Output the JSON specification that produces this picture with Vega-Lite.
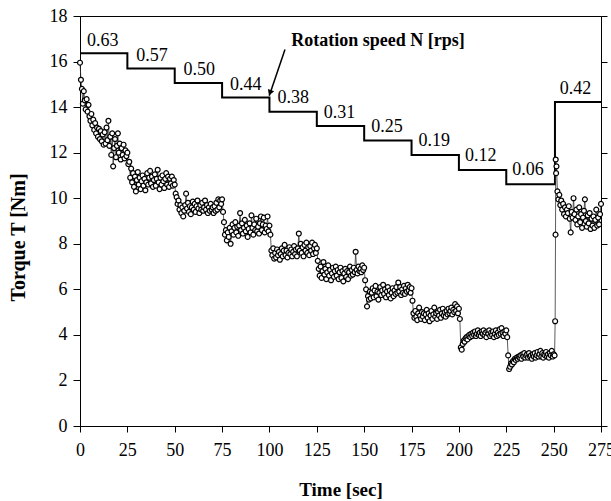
{
  "$schema": "https://vega.github.io/schema/vega-lite/v6.json",
  "width": 521,
  "height": 410,
  "autosize": {"type": "none"},
  "padding": {"left": 80, "top": 16, "right": 10, "bottom": 75},
  "background": "white",
  "config": {
    "view": {"stroke": "black", "strokeWidth": 1},
    "font": "Liberation Serif",
    "text": {"font": "Liberation Serif"},
    "axis": {"grid": false, "domainColor": "black", "tickColor": "black", "labelColor": "black", "titleColor": "black", "labelFont": "Liberation Serif", "titleFont": "Liberation Serif", "labelFontSize": 18, "titleFontSize": 19, "titleFontWeight": "bold", "labelOverlap": false, "labelFlush": false, "domainWidth": 1, "tickWidth": 1}
  },
  "datasets": {
    "torque": [
      {"t":0,"T":15.95},{"t":0.5,"T":15.2},{"t":1,"T":14.8},{"t":1.5,"T":14.15},{"t":2,"T":14.7},{"t":2.5,"T":14.3},{"t":3,"T":13.9},{"t":3.5,"T":14.35},{"t":4,"T":13.8},{"t":4.5,"T":14.1},
      {"t":5,"T":13.6},{"t":5.5,"T":13.4},{"t":6,"T":13.7},{"t":6.5,"T":13.2},{"t":7,"T":13.45},{"t":7.5,"T":13.0},{"t":8,"T":13.3},{"t":8.5,"T":12.85},{"t":9,"T":13.1},{"t":9.5,"T":12.7},
      {"t":10,"T":13.05},{"t":10.5,"T":12.6},{"t":11,"T":12.95},{"t":11.5,"T":12.5},{"t":12,"T":12.8},{"t":12.5,"T":12.35},{"t":13,"T":12.9},{"t":13.5,"T":12.4},{"t":14,"T":13.1},{"t":14.5,"T":12.55},
      {"t":15,"T":13.4},{"t":15.5,"T":12.3},{"t":16,"T":12.7},{"t":16.5,"T":11.9},{"t":17,"T":12.85},{"t":17.5,"T":11.4},{"t":18,"T":12.2},{"t":18.5,"T":12.6},{"t":19,"T":11.8},{"t":19.5,"T":12.3},
      {"t":20,"T":12.85},{"t":20.5,"T":12.0},{"t":21,"T":12.4},{"t":21.5,"T":11.7},{"t":22,"T":12.2},{"t":22.5,"T":11.9},{"t":23,"T":12.35},{"t":23.5,"T":11.75},{"t":24,"T":12.1},{"t":24.5,"T":11.85},
      {"t":25,"T":12.0},{"t":25.5,"T":11.5},
      {"t":26,"T":11.6},{"t":26.5,"T":10.9},{"t":27,"T":11.3},{"t":27.5,"T":10.7},{"t":28,"T":11.1},{"t":28.5,"T":10.5},{"t":29,"T":10.95},{"t":29.5,"T":10.3},{"t":30,"T":10.8},{"t":30.5,"T":11.15},
      {"t":31,"T":10.6},{"t":31.5,"T":10.9},{"t":32,"T":10.4},{"t":32.5,"T":10.75},{"t":33,"T":11.0},{"t":33.5,"T":10.55},{"t":34,"T":10.85},{"t":34.5,"T":10.35},{"t":35,"T":10.7},{"t":35.5,"T":11.1},
      {"t":36,"T":10.6},{"t":36.5,"T":10.9},{"t":37,"T":11.2},{"t":37.5,"T":10.65},{"t":38,"T":10.95},{"t":38.5,"T":10.5},{"t":39,"T":10.8},{"t":39.5,"T":11.05},{"t":40,"T":10.55},{"t":40.5,"T":10.85},
      {"t":41,"T":11.25},{"t":41.5,"T":10.7},{"t":42,"T":10.4},{"t":42.5,"T":10.9},{"t":43,"T":10.6},{"t":43.5,"T":11.0},{"t":44,"T":10.75},{"t":44.5,"T":10.45},{"t":45,"T":10.85},{"t":45.5,"T":11.1},
      {"t":46,"T":10.6},{"t":46.5,"T":10.95},{"t":47,"T":10.5},{"t":47.5,"T":10.85},{"t":48,"T":10.65},{"t":48.5,"T":10.95},{"t":49,"T":10.55},{"t":49.5,"T":10.8},{"t":50,"T":10.6},{"t":50.5,"T":10.2},
      {"t":51,"T":10.05},{"t":51.5,"T":9.75},{"t":52,"T":9.9},{"t":52.5,"T":9.5},{"t":53,"T":9.7},{"t":53.5,"T":9.35},{"t":54,"T":9.6},{"t":54.5,"T":9.2},{"t":55,"T":9.45},{"t":55.5,"T":9.7},
      {"t":56,"T":10.2},{"t":56.5,"T":9.55},{"t":57,"T":9.8},{"t":57.5,"T":9.4},{"t":58,"T":9.65},{"t":58.5,"T":9.3},{"t":59,"T":9.6},{"t":59.5,"T":9.85},{"t":60,"T":9.5},{"t":60.5,"T":9.75},
      {"t":61,"T":9.4},{"t":61.5,"T":9.65},{"t":62,"T":9.9},{"t":62.5,"T":9.55},{"t":63,"T":9.35},{"t":63.5,"T":9.7},{"t":64,"T":9.5},{"t":64.5,"T":9.8},{"t":65,"T":9.45},{"t":65.5,"T":9.6},
      {"t":66,"T":9.9},{"t":66.5,"T":9.5},{"t":67,"T":9.7},{"t":67.5,"T":9.35},{"t":68,"T":9.6},{"t":68.5,"T":9.45},{"t":69,"T":9.75},{"t":69.5,"T":9.5},{"t":70,"T":9.6},{"t":70.5,"T":9.35},
      {"t":71,"T":9.65},{"t":71.5,"T":9.45},{"t":72,"T":9.8},{"t":72.5,"T":9.5},{"t":73,"T":9.95},{"t":73.5,"T":9.6},{"t":74,"T":9.9},{"t":74.5,"T":9.75},{"t":75,"T":9.95},{"t":75.5,"T":9.4},
      {"t":76,"T":8.95},{"t":76.5,"T":8.4},{"t":77,"T":8.6},{"t":77.5,"T":8.15},{"t":78,"T":8.5},{"t":78.5,"T":8.3},{"t":79,"T":8.7},{"t":79.5,"T":8.0},{"t":80,"T":8.55},{"t":80.5,"T":8.85},
      {"t":81,"T":8.4},{"t":81.5,"T":8.7},{"t":82,"T":8.95},{"t":82.5,"T":8.5},{"t":83,"T":8.75},{"t":83.5,"T":8.35},{"t":84,"T":8.8},{"t":84.5,"T":9.35},{"t":85,"T":8.6},{"t":85.5,"T":8.9},
      {"t":86,"T":8.45},{"t":86.5,"T":8.7},{"t":87,"T":9.05},{"t":87.5,"T":8.55},{"t":88,"T":8.8},{"t":88.5,"T":8.3},{"t":89,"T":8.65},{"t":89.5,"T":8.9},{"t":90,"T":8.5},{"t":90.5,"T":9.25},
      {"t":91,"T":8.7},{"t":91.5,"T":8.4},{"t":92,"T":8.85},{"t":92.5,"T":8.6},{"t":93,"T":9.1},{"t":93.5,"T":8.55},{"t":94,"T":8.75},{"t":94.5,"T":8.45},{"t":95,"T":8.9},{"t":95.5,"T":9.2},
      {"t":96,"T":8.6},{"t":96.5,"T":8.85},{"t":97,"T":9.15},{"t":97.5,"T":8.5},{"t":98,"T":8.8},{"t":98.5,"T":8.65},{"t":99,"T":9.2},{"t":99.5,"T":8.55},{"t":100,"T":8.8},{"t":100.5,"T":8.4},
      {"t":101,"T":7.7},{"t":101.5,"T":7.5},{"t":102,"T":7.8},{"t":102.5,"T":7.35},{"t":103,"T":7.6},{"t":103.5,"T":7.4},{"t":104,"T":7.75},{"t":104.5,"T":7.5},{"t":105,"T":7.65},{"t":105.5,"T":7.3},
      {"t":106,"T":7.55},{"t":106.5,"T":7.8},{"t":107,"T":7.45},{"t":107.5,"T":7.7},{"t":108,"T":7.95},{"t":108.5,"T":7.5},{"t":109,"T":7.7},{"t":109.5,"T":7.4},{"t":110,"T":7.6},{"t":110.5,"T":7.85},
      {"t":111,"T":7.55},{"t":111.5,"T":7.75},{"t":112,"T":7.45},{"t":112.5,"T":7.65},{"t":113,"T":7.9},{"t":113.5,"T":7.55},{"t":114,"T":7.75},{"t":114.5,"T":7.45},{"t":115,"T":7.8},{"t":115.5,"T":8.45},
      {"t":116,"T":7.7},{"t":116.5,"T":8.0},{"t":117,"T":7.6},{"t":117.5,"T":7.85},{"t":118,"T":7.45},{"t":118.5,"T":7.95},{"t":119,"T":7.7},{"t":119.5,"T":8.05},{"t":120,"T":7.6},{"t":120.5,"T":7.85},
      {"t":121,"T":7.5},{"t":121.5,"T":7.9},{"t":122,"T":7.7},{"t":122.5,"T":8.05},{"t":123,"T":7.55},{"t":123.5,"T":7.8},{"t":124,"T":7.95},{"t":124.5,"T":7.6},{"t":125,"T":7.8},{"t":125.5,"T":7.25},
      {"t":126,"T":6.9},{"t":126.5,"T":6.6},{"t":127,"T":7.0},{"t":127.5,"T":6.5},{"t":128,"T":6.8},{"t":128.5,"T":7.2},{"t":129,"T":6.65},{"t":129.5,"T":6.9},{"t":130,"T":6.45},{"t":130.5,"T":6.75},
      {"t":131,"T":7.05},{"t":131.5,"T":6.6},{"t":132,"T":6.85},{"t":132.5,"T":6.4},{"t":133,"T":6.7},{"t":133.5,"T":6.95},{"t":134,"T":6.55},{"t":134.5,"T":6.8},{"t":135,"T":7.0},{"t":135.5,"T":6.6},
      {"t":136,"T":6.85},{"t":136.5,"T":6.45},{"t":137,"T":6.75},{"t":137.5,"T":6.95},{"t":138,"T":6.5},{"t":138.5,"T":6.8},{"t":139,"T":6.35},{"t":139.5,"T":6.7},{"t":140,"T":6.9},{"t":140.5,"T":6.55},
      {"t":141,"T":6.8},{"t":141.5,"T":6.45},{"t":142,"T":6.75},{"t":142.5,"T":7.0},{"t":143,"T":6.6},{"t":143.5,"T":6.85},{"t":144,"T":6.65},{"t":144.5,"T":6.95},{"t":145,"T":6.75},{"t":145.5,"T":7.65},
      {"t":146,"T":6.85},{"t":146.5,"T":6.7},{"t":147,"T":7.0},{"t":147.5,"T":6.8},{"t":148,"T":6.9},{"t":148.5,"T":6.75},{"t":149,"T":7.05},{"t":149.5,"T":6.85},{"t":150,"T":6.95},{"t":150.5,"T":6.4},
      {"t":151,"T":6.0},{"t":151.5,"T":5.25},{"t":152,"T":5.7},{"t":152.5,"T":5.55},{"t":153,"T":5.9},{"t":153.5,"T":5.6},{"t":154,"T":5.85},{"t":154.5,"T":6.05},{"t":155,"T":5.65},{"t":155.5,"T":5.95},
      {"t":156,"T":6.15},{"t":156.5,"T":5.7},{"t":157,"T":5.9},{"t":157.5,"T":5.55},{"t":158,"T":5.85},{"t":158.5,"T":6.1},{"t":159,"T":5.75},{"t":159.5,"T":5.95},{"t":160,"T":6.2},{"t":160.5,"T":5.8},
      {"t":161,"T":6.0},{"t":161.5,"T":5.65},{"t":162,"T":5.9},{"t":162.5,"T":6.1},{"t":163,"T":5.75},{"t":163.5,"T":5.95},{"t":164,"T":5.6},{"t":164.5,"T":5.85},{"t":165,"T":6.05},{"t":165.5,"T":5.7},
      {"t":166,"T":5.95},{"t":166.5,"T":5.8},{"t":167,"T":6.1},{"t":167.5,"T":5.85},{"t":168,"T":6.3},{"t":168.5,"T":5.9},{"t":169,"T":6.1},{"t":169.5,"T":5.75},{"t":170,"T":6.0},{"t":170.5,"T":5.85},
      {"t":171,"T":6.15},{"t":171.5,"T":5.8},{"t":172,"T":6.05},{"t":172.5,"T":5.9},{"t":173,"T":6.2},{"t":173.5,"T":5.95},{"t":174,"T":6.1},{"t":174.5,"T":5.85},{"t":175,"T":6.05},{"t":175.5,"T":5.5},
      {"t":176,"T":4.95},{"t":176.5,"T":4.75},{"t":177,"T":5.05},{"t":177.5,"T":4.8},{"t":178,"T":4.65},{"t":178.5,"T":4.95},{"t":179,"T":5.2},{"t":179.5,"T":4.85},{"t":180,"T":4.7},{"t":180.5,"T":5.0},
      {"t":181,"T":4.8},{"t":181.5,"T":4.95},{"t":182,"T":4.65},{"t":182.5,"T":4.9},{"t":183,"T":5.1},{"t":183.5,"T":4.75},{"t":184,"T":4.95},{"t":184.5,"T":4.6},{"t":185,"T":4.85},{"t":185.5,"T":5.05},
      {"t":186,"T":4.7},{"t":186.5,"T":4.9},{"t":187,"T":5.2},{"t":187.5,"T":4.8},{"t":188,"T":4.95},{"t":188.5,"T":4.7},{"t":189,"T":5.0},{"t":189.5,"T":4.85},{"t":190,"T":5.1},{"t":190.5,"T":4.75},
      {"t":191,"T":4.95},{"t":191.5,"T":5.15},{"t":192,"T":4.85},{"t":192.5,"T":5.0},{"t":193,"T":4.8},{"t":193.5,"T":5.05},{"t":194,"T":4.9},{"t":194.5,"T":5.15},{"t":195,"T":4.95},{"t":195.5,"T":5.05},
      {"t":196,"T":5.2},{"t":196.5,"T":4.9},{"t":197,"T":5.1},{"t":197.5,"T":5.0},{"t":198,"T":5.35},{"t":198.5,"T":5.05},{"t":199,"T":5.25},{"t":199.5,"T":4.95},{"t":200,"T":5.15},{"t":200.5,"T":4.7},
      {"t":201,"T":3.45},{"t":201.5,"T":3.35},{"t":202,"T":3.6},{"t":202.5,"T":3.75},{"t":203,"T":3.7},{"t":203.5,"T":3.85},{"t":204,"T":3.9},{"t":204.5,"T":3.8},{"t":205,"T":3.95},{"t":205.5,"T":4.0},
      {"t":206,"T":3.9},{"t":206.5,"T":4.05},{"t":207,"T":3.95},{"t":207.5,"T":4.1},{"t":208,"T":4.0},{"t":208.5,"T":4.15},{"t":209,"T":3.95},{"t":209.5,"T":4.05},{"t":210,"T":4.2},{"t":210.5,"T":4.0},
      {"t":211,"T":4.1},{"t":211.5,"T":3.95},{"t":212,"T":4.15},{"t":212.5,"T":4.05},{"t":213,"T":4.2},{"t":213.5,"T":4.0},{"t":214,"T":4.1},{"t":214.5,"T":3.9},{"t":215,"T":4.15},{"t":215.5,"T":4.05},
      {"t":216,"T":4.2},{"t":216.5,"T":3.95},{"t":217,"T":4.1},{"t":217.5,"T":4.0},{"t":218,"T":4.15},{"t":218.5,"T":3.9},{"t":219,"T":4.05},{"t":219.5,"T":4.2},{"t":220,"T":3.95},{"t":220.5,"T":4.1},
      {"t":221,"T":4.0},{"t":221.5,"T":4.25},{"t":222,"T":4.05},{"t":222.5,"T":4.3},{"t":223,"T":4.1},{"t":223.5,"T":3.95},{"t":224,"T":4.15},{"t":224.5,"T":4.05},{"t":225,"T":4.2},{"t":225.5,"T":3.9},
      {"t":226,"T":3.1},{"t":226.5,"T":2.5},{"t":227,"T":2.6},{"t":227.5,"T":2.75},{"t":228,"T":2.7},{"t":228.5,"T":2.85},{"t":229,"T":2.8},{"t":229.5,"T":2.95},{"t":230,"T":2.9},{"t":230.5,"T":3.0},
      {"t":231,"T":2.95},{"t":231.5,"T":3.05},{"t":232,"T":3.0},{"t":232.5,"T":3.1},{"t":233,"T":2.95},{"t":233.5,"T":3.15},{"t":234,"T":3.05},{"t":234.5,"T":3.2},{"t":235,"T":3.0},{"t":235.5,"T":3.1},
      {"t":236,"T":3.15},{"t":236.5,"T":3.0},{"t":237,"T":3.2},{"t":237.5,"T":3.05},{"t":238,"T":3.1},{"t":238.5,"T":2.95},{"t":239,"T":3.15},{"t":239.5,"T":3.05},{"t":240,"T":3.2},{"t":240.5,"T":3.0},
      {"t":241,"T":3.1},{"t":241.5,"T":3.25},{"t":242,"T":3.05},{"t":242.5,"T":3.15},{"t":243,"T":3.3},{"t":243.5,"T":3.05},{"t":244,"T":3.2},{"t":244.5,"T":3.0},{"t":245,"T":3.15},{"t":245.5,"T":3.1},
      {"t":246,"T":3.25},{"t":246.5,"T":3.05},{"t":247,"T":3.15},{"t":247.5,"T":3.0},{"t":248,"T":3.2},{"t":248.5,"T":3.1},{"t":249,"T":3.3},{"t":249.5,"T":3.05},{"t":250,"T":3.15},{"t":250.5,"T":3.1},
      {"t":250.8,"T":4.6},{"t":251,"T":8.4},{"t":251.1,"T":11.7},{"t":251.3,"T":11.1},{"t":251.5,"T":11.4},{"t":252,"T":10.3},{"t":252.5,"T":9.95},{"t":253,"T":10.15},{"t":253.5,"T":9.7},{"t":254,"T":9.9},
      {"t":254.5,"T":9.5},{"t":255,"T":9.75},{"t":255.5,"T":9.3},{"t":256,"T":9.6},{"t":256.5,"T":9.2},{"t":257,"T":9.5},{"t":257.5,"T":9.35},{"t":258,"T":9.65},{"t":258.5,"T":9.1},{"t":259,"T":8.5},
      {"t":259.5,"T":9.4},{"t":260,"T":9.15},{"t":260.5,"T":10.0},{"t":261,"T":9.3},{"t":261.5,"T":9.05},{"t":262,"T":9.5},{"t":262.5,"T":8.85},{"t":263,"T":9.2},{"t":263.5,"T":9.6},{"t":264,"T":8.95},
      {"t":264.5,"T":9.3},{"t":265,"T":8.7},{"t":265.5,"T":9.15},{"t":266,"T":9.45},{"t":266.5,"T":9.95},{"t":267,"T":9.0},{"t":267.5,"T":8.75},{"t":268,"T":9.25},{"t":268.5,"T":8.9},{"t":269,"T":9.35},
      {"t":269.5,"T":8.65},{"t":270,"T":9.1},{"t":270.5,"T":8.8},{"t":271,"T":9.2},{"t":271.5,"T":8.7},{"t":272,"T":9.05},{"t":272.5,"T":9.5},{"t":273,"T":8.8},{"t":273.5,"T":9.15},{"t":274,"T":8.85},
      {"t":274.5,"T":9.3},{"t":275,"T":9.75}
    ],
    "speed": [
      {"t":0,"N":16.36},{"t":25,"N":15.69},{"t":50,"N":15.06},{"t":75,"N":14.42},{"t":100,"N":13.8},{"t":125,"N":13.17},{"t":150,"N":12.53},{"t":175,"N":11.9},{"t":200,"N":11.24},{"t":225,"N":10.61},{"t":250.7,"N":14.22},{"t":275,"N":14.22}
    ],
    "labels": [
      {"t":12,"y":16.9,"label":"0.63"},{"t":38,"y":16.26,"label":"0.57"},{"t":63,"y":15.62,"label":"0.50"},{"t":87.5,"y":14.99,"label":"0.44"},{"t":112.5,"y":14.41,"label":"0.38"},{"t":137,"y":13.75,"label":"0.31"},{"t":162,"y":13.13,"label":"0.25"},{"t":187,"y":12.5,"label":"0.19"},{"t":211.5,"y":11.87,"label":"0.12"},{"t":236.5,"y":11.23,"label":"0.06"},{"t":261.5,"y":14.8,"label":"0.42"}
    ],
    "note": [{"t":157.3,"y":16.89,"label":"Rotation speed N [rps]"}],
    "arrow": [{"t":108.2,"y":16.53,"t2":99.9,"y2":14.5}],
    "head": [{"t":100.3,"y":14.63}]
  },
  "layer": [
    {
      "data": {"name": "speed"},
      "mark": {"type": "line", "interpolate": "step-after", "color": "black", "strokeWidth": 2},
      "encoding": {
        "x": {"field": "t", "type": "quantitative", "scale": {"domain": [0, 275], "nice": false, "zero": false},
              "axis": {"values": [0,25,50,75,100,125,150,175,200,225,250,275], "title": "Time [sec]", "labelFont": "Liberation Serif", "titleFont": "Liberation Serif", "tickSize": 6, "labelPadding": 9, "titleY": 63, "titleBaseline": "middle"}},
        "y": {"field": "N", "type": "quantitative", "scale": {"domain": [0, 18], "nice": false},
              "axis": {"values": [0,2,4,6,8,10,12,14,16,18], "title": "Torque T [Nm]", "labelFont": "Liberation Serif", "titleFont": "Liberation Serif", "titleFontSize": 20, "tickSize": 7, "labelPadding": 6, "titleX": -62, "titleY": 221, "titleAngle": -90, "titleAlign": "center", "titleBaseline": "middle"}}
      }
    },
    {
      "data": {"name": "torque"},
      "mark": {"type": "line", "color": "#333333", "strokeWidth": 0.8},
      "encoding": {
        "x": {"field": "t", "type": "quantitative"},
        "y": {"field": "T", "type": "quantitative", "axis": {"orient": "right", "values": [0,2,4,6,8,10,12,14,16,18], "labels": false, "title": null, "tickSize": 6}}
      }
    },
    {
      "data": {"name": "torque"},
      "mark": {"type": "point", "shape": "circle", "filled": true, "fill": "white", "stroke": "black", "strokeWidth": 1.2, "size": 24, "opacity": 1},
      "encoding": {
        "x": {"field": "t", "type": "quantitative"},
        "y": {"field": "T", "type": "quantitative", "axis": null}
      }
    },
    {
      "data": {"name": "labels"},
      "mark": {"type": "text", "font": "Liberation Serif", "fontSize": 18, "color": "black", "align": "center", "baseline": "middle"},
      "encoding": {
        "x": {"field": "t", "type": "quantitative"},
        "y": {"field": "y", "type": "quantitative", "axis": null},
        "text": {"field": "label"}
      }
    },
    {
      "data": {"name": "note"},
      "mark": {"type": "text", "font": "Liberation Serif", "fontSize": 18, "fontWeight": "bold", "color": "black", "align": "center", "baseline": "middle"},
      "encoding": {
        "x": {"field": "t", "type": "quantitative"},
        "y": {"field": "y", "type": "quantitative", "axis": null},
        "text": {"field": "label"}
      }
    },
    {
      "data": {"name": "arrow"},
      "mark": {"type": "rule", "color": "black", "strokeWidth": 1.5},
      "encoding": {
        "x": {"field": "t", "type": "quantitative"},
        "y": {"field": "y", "type": "quantitative", "axis": null},
        "x2": {"field": "t2"},
        "y2": {"field": "y2"}
      }
    },
    {
      "data": {"name": "head"},
      "mark": {"type": "point", "shape": "triangle-down", "filled": true, "color": "black", "size": 45, "angle": 20, "opacity": 1},
      "encoding": {
        "x": {"field": "t", "type": "quantitative"},
        "y": {"field": "y", "type": "quantitative", "axis": null}
      }
    }
  ],
  "resolve": {"axis": {"y": "independent"}}
}
